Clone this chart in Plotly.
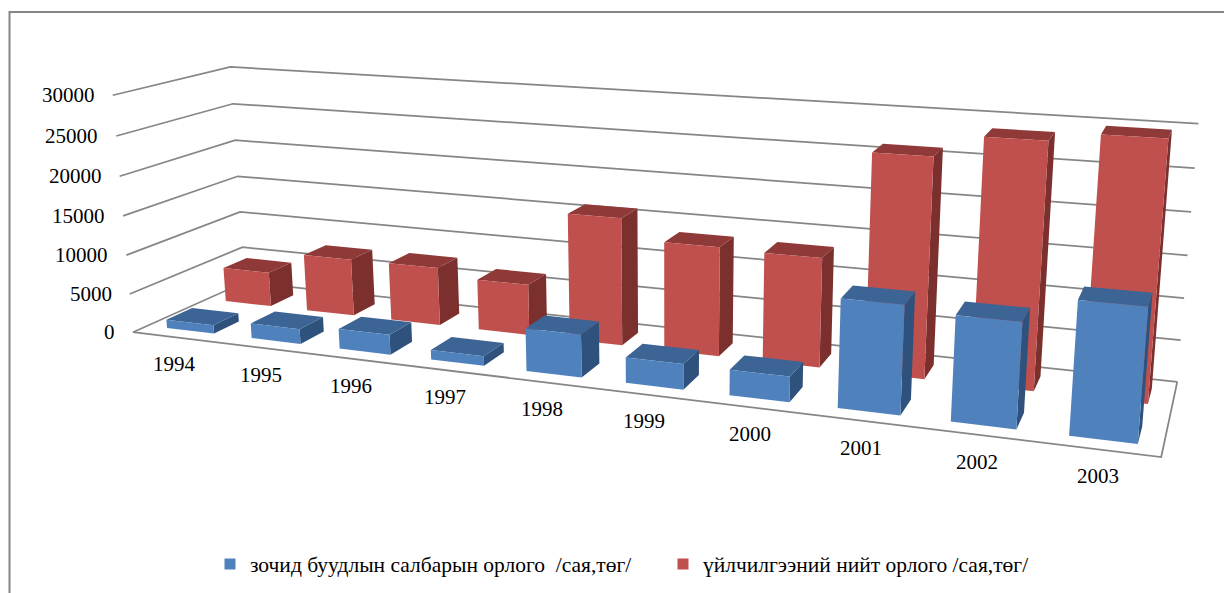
import numpy as np
import plotly.graph_objects as go

years = ["1994","1995","1996","1997","1998","1999","2000","2001","2002","2003"]
hotel_income = [1100,1900,2500,1200,5200,3050,3000,12500,11900,14800]
service_income = [4570,7470,7500,6500,16000,13500,13300,26100,28700,29750]
z_ticks = [0,5000,10000,15000,20000,25000,30000]
names = ["зочид буудлын салбарын орлого  /сая,төг/","үйлчилгээний нийт орлого /сая,төг/"]

# Perspective view of the chart box (category 0-10, depth 0-1, value 0-30000)
P=np.array([[804.63,137.858,-24.286,132.963],
            [36.7876,-20.2385,-240.434,332.236],
            [-0.192587,0.106113,-0.0363531,1.0]])
def project(x,y,z):
    h=P@np.array([x/10,y,z/30000,1.0])
    return h[0]/h[2],h[1]/h[2]

ROW_Y=[(0.12,0.34),(0.64,0.86)]
HALF=0.28
CENTER=0.515
FRONT=["#4F81BD","#C0504D"];TOP=["#3C6494","#8F3A38"];SIDE=["#2F527C","#7B302E"]
def poly(corners):
    pts=[project(*c) for c in corners]
    pts.append(pts[0])
    return [p[0] for p in pts]+[None],[p[1] for p in pts]+[None]
def bar_traces(vals,row):
    y0,y1=ROW_Y[row]
    out=[]
    for kind,col in (("side",SIDE[row]),("top",TOP[row]),("front",FRONT[row])):
        X,Y=[],[]
        for n,v in enumerate(vals):
            x0,x1=n+CENTER-HALF,n+CENTER+HALF
            c={"front":[(x0,y0,0),(x1,y0,0),(x1,y0,v),(x0,y0,v)],
               "top":[(x0,y0,v),(x1,y0,v),(x1,y1,v),(x0,y1,v)],
               "side":[(x1,y0,0),(x1,y1,0),(x1,y1,v),(x1,y0,v)]}[kind]
            a,d=poly(c);X+=a;Y+=d
        out.append(go.Scatter(x=X,y=Y,mode="lines",fill="toself",fillcolor=col,line=dict(width=0,color=col),hoverinfo="skip",showlegend=False))
    return out
GRID="#868686"
gx,gy=[],[]
for t in z_ticks:
    for c in [(0,0,t),(0,1,t),(10,1,t)]:
        a=project(*c);gx.append(a[0]);gy.append(a[1])
    gx.append(None);gy.append(None)
for c in [(0,0,0),(10,0,0),(10,1,0)]:
    a=project(*c);gx.append(a[0]);gy.append(a[1])
traces=[go.Scatter(x=gx,y=gy,mode="lines",line=dict(color=GRID,width=1.75),hoverinfo="skip",showlegend=False)]
traces+=bar_traces(service_income,1)+bar_traces(hotel_income,0)
traces.append(go.Scatter(x=[None],y=[None],mode="markers",marker=dict(symbol="square",size=11,color=FRONT[0]),name=names[0],legend="legend"))
traces.append(go.Scatter(x=[None],y=[None],mode="markers",marker=dict(symbol="square",size=11,color=FRONT[1]),name=names[1],legend="legend2"))
fig=go.Figure(traces)
FONT=dict(family="Liberation Serif",size=21,color="#000")
ann=[]
for t in z_ticks:
    a=project(0,0,t)
    ann.append(dict(x=a[0],y=a[1],text=str(t),showarrow=False,xanchor="right",xshift=-16,yshift=0,font=FONT))
for n,s_ in enumerate(years):
    a=project(n+.5,0,0)
    ann.append(dict(x=a[0],y=a[1],text=s_,showarrow=False,yshift=-27,font=FONT))
def lg(px,py):
    return dict(x=(px-8)/1224,y=1-(py-8)/585,xanchor="left",yanchor="middle",font=dict(family="Liberation Serif",size=21.5,color="#000"),bgcolor="rgba(0,0,0,0)",itemclick=False,itemdoubleclick=False)
fig.update_layout(width=1224,height=585,margin=dict(l=0,r=0,t=0,b=0),paper_bgcolor="white",plot_bgcolor="white",autosize=False,
  hovermode=False,showlegend=True,
  xaxis=dict(range=[8,1232],visible=False,fixedrange=True),yaxis=dict(range=[593,8],visible=False,fixedrange=True),
  legend=lg(210,564),legend2=lg(663,564),annotations=ann,
  shapes=[dict(type="rect",xref="x",yref="y",x0=9.5,x1=1300,y0=12,y1=640,line=dict(color="#868686",width=2),layer="below")])
fig.write_html("out.html")
